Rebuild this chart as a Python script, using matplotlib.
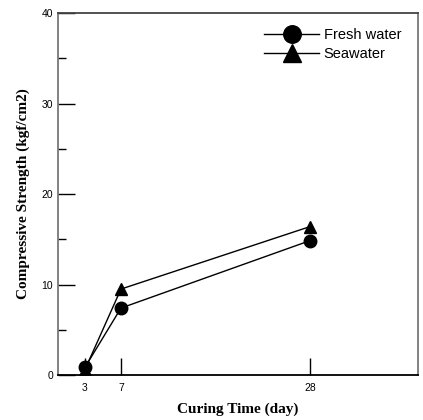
import matplotlib
matplotlib.use('Agg')
import matplotlib.pyplot as plt
from matplotlib.ticker import MultipleLocator

# data
days = [3, 7, 28]
fresh_water = [0.85, 7.4, 14.85]
seawater = [0.6, 9.5, 16.4]

fig = plt.figure(figsize=(4.23, 4.20), dpi=100)
ax = fig.add_axes([0.137, 0.107, 0.851, 0.862])

ax.plot(days, fresh_water, '-o', color='black', lw=1.0, ms=9, label='Fresh water')
ax.plot(days, seawater, '-^', color='black', lw=1.0, ms=9, label='Seawater')

ax.set_xlim(0, 40)
ax.set_ylim(0, 40)
ax.set_xticks(days)
ax.yaxis.set_major_locator(MultipleLocator(10))
ax.yaxis.set_minor_locator(MultipleLocator(5))

ax.tick_params(axis='both', which='major', direction='in', length=12, width=1.0,
               labelsize=7.5, colors='black')
ax.tick_params(axis='y', which='minor', direction='in', length=6, width=1.0)
for lbl in ax.get_xticklabels() + ax.get_yticklabels():
    lbl.set_family('Liberation Sans')
ax.tick_params(axis='x', pad=5.5)

ax.spines['left'].set_color('#777777')
ax.spines['right'].set_color('#777777')
ax.spines['top'].set_color('#444444')
ax.spines['bottom'].set_color('black')
for s in ax.spines.values():
    s.set_linewidth(1.3)

ax.set_xlabel('Curing Time (day)', family='Liberation Serif', fontweight='bold', fontsize=11, labelpad=7)
ax.set_ylabel('Compressive Strength (kgf/cm2)', family='Liberation Serif', fontweight='bold', fontsize=11, labelpad=8)

leg = ax.legend(loc='upper right', bbox_to_anchor=(0.99, 0.994), frameon=False, markerscale=1.4,
                handlelength=3.8, handletextpad=0.3, labelspacing=0.3,
                borderaxespad=0.5, prop={'family': 'Liberation Sans', 'size': 10.5})

fig.savefig('out.png', dpi=100)
